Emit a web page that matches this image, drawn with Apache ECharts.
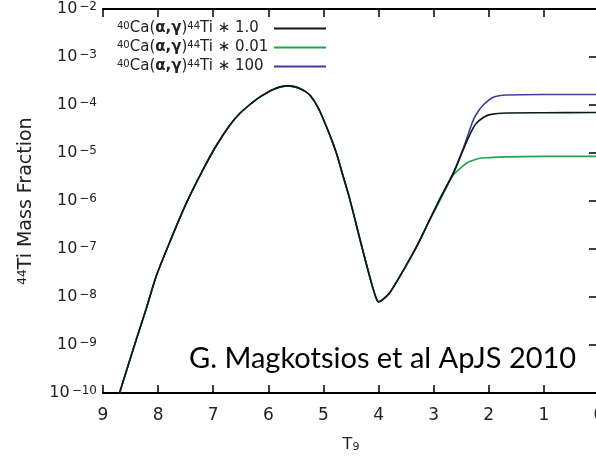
<!DOCTYPE html>
<html>
<head>
<meta charset="utf-8">
<script src="https://cdn.jsdelivr.net/npm/echarts@6/dist/echarts.min.js"></script>
<style>
  html, body { margin: 0; padding: 0; background: #fff; }
  #chart { width: 596px; height: 460px; }
</style>
</head>
<body>
<div id="chart"></div>
<script>
// rate multipliers shown in the legend
const rateFactors = ['1.0', '0.01', '100'];
const lineColors = ['#0b1a12', '#1fa64c', '#3d3f98'];

// shared part of the curves (T9, mass fraction) – all three overlap here
const tCommon = [8.70, 8.40, 8.21, 8.03, 7.79, 7.49, 7.19, 6.94, 6.70, 6.51, 6.30, 6.15, 5.90, 5.65,
  5.40, 5.24, 5.10, 5.00, 4.88, 4.76, 4.64, 4.52, 4.31, 4.15, 4.06, 4.00, 3.92, 3.79, 3.55, 3.31, 3.07];
const yCommon = [1e-10, 1.26e-9, 6.0e-9, 2.8e-8, 1.38e-7, 8.9e-7, 4.4e-6, 1.45e-5, 3.8e-5, 6.8e-5, 1.1e-4, 1.48e-4, 2.14e-4, 2.5e-4,
  2.14e-4, 1.58e-4, 8.9e-5, 5.0e-5, 2.3e-5, 9.5e-6, 3.2e-6, 1.07e-6, 1.2e-7, 2.4e-8, 1.07e-8, 7.9e-9, 8.9e-9, 1.26e-8, 3.6e-8, 1.12e-7, 4.1e-7];

// where they split after T9 ~ 3
const tTailK = [2.88, 2.64, 2.52, 2.40, 2.31, 2.23, 2.10, 1.98, 1.67, 1.0, 0];
const yTailK = [1.15e-6, 3.8e-6, 8.1e-6, 1.74e-5, 2.9e-5, 4.1e-5, 5.5e-5, 6.3e-5, 6.8e-5, 6.9e-5, 7.0e-5];

const tTailG = [2.88, 2.76, 2.64, 2.52, 2.40, 2.28, 2.16, 2.0, 1.74, 1.0, 0];
const yTailG = [1.05e-6, 2.0e-6, 3.5e-6, 4.8e-6, 6.2e-6, 7.1e-6, 7.8e-6, 8.0e-6, 8.3e-6, 8.5e-6, 8.5e-6];

const tTailB = [2.88, 2.64, 2.45, 2.28, 2.19, 2.10, 1.92, 1.67, 1.0, 0];
const yTailB = [1.15e-6, 4.0e-6, 1.38e-5, 4.9e-5, 7.4e-5, 1.0e-4, 1.45e-4, 1.62e-4, 1.66e-4, 1.66e-4];

const xTicks = [0, 1, 2, 3, 4, 5, 6, 7, 8, 9];

const tails = [[tTailK, yTailK], [tTailG, yTailG], [tTailB, yTailB]];
const zOrder = [5, 3, 4];

const labelFont = 'DejaVu Sans';
const ink = '#222';

function pairs(ts, ys) {
  return ts.map((t, i) => [t, ys[i]]);
}

function powLabel(v) {
  const e = Math.round(Math.log10(v));
  return '{b|10}{s|' + String(e).replace('-', '\u2212') + '}';
}

const powRich = {
  b: { fontSize: 16, lineHeight: 16, verticalAlign: 'bottom', fontFamily: labelFont, color: ink },
  s: { fontSize: 12, lineHeight: 11, verticalAlign: 'top', padding: [0, 0, 8, 2], fontFamily: labelFont, color: ink }
};

const seriesList = rateFactors.map((f, i) => ({
  name: '40Ca(α,γ)44Ti * ' + f,
  type: 'line',
  data: pairs(tCommon, yCommon).concat(pairs(tails[i][0], tails[i][1])),
  symbol: 'none',
  smooth: 0.3,
  z: zOrder[i],
  lineStyle: { color: lineColors[i], width: 1.6 },
  itemStyle: { color: lineColors[i] }
}));

const chart = echarts.init(document.getElementById('chart'), null, { renderer: 'canvas' });

const xBase = {
  type: 'value',
  min: xTicks[0],
  max: xTicks[xTicks.length - 1],
  interval: 1,
  inverse: true,
  splitLine: { show: false },
  axisLine: { lineStyle: { color: '#000', width: 2 } },
  axisTick: { inside: true, length: 8, lineStyle: { color: '#000', width: 1.5 } }
};

const yBase = {
  type: 'log',
  logBase: 10,
  min: 1e-10,
  max: 1e-2,
  splitNumber: 8,
  splitLine: { show: false },
  minorTick: { show: false },
  axisLine: { show: true, lineStyle: { color: '#000', width: 2 } },
  axisTick: { show: true, inside: true, length: 10, lineStyle: { color: '#000', width: 1.5 } }
};

chart.setOption({
  backgroundColor: '#fff',
  animation: false,
  grid: { left: 103, right: -3, top: 9, bottom: 67, outerBoundsMode: 'none' },
  legend: {
    orient: 'vertical',
    align: 'right',
    left: 112,
    top: 16,
    itemWidth: 52,
    itemHeight: 12,
    itemGap: 2,
    itemStyle: { opacity: 0 },
    data: seriesList.map(s => s.name),
    formatter(name) {
      const f = name.split('* ')[1];
      return '{s|40}{t|Ca(}{g|α,γ}{t|)}{s|44}{t|Ti \u2217 ' + f + '}';
    },
    textStyle: {
      width: 152,
      rich: {
        t: { align: 'left', fontSize: 15, lineHeight: 15, verticalAlign: 'bottom', fontFamily: labelFont, color: ink },
        g: { align: 'left', fontSize: 15, lineHeight: 15, verticalAlign: 'bottom', fontWeight: 'bold', fontFamily: labelFont, color: ink },
        s: { align: 'left', fontSize: 10, lineHeight: 10, verticalAlign: 'top', padding: [0, 0, 7, 0], fontFamily: labelFont, color: ink }
      }
    }
  },
  xAxis: [
    Object.assign({}, xBase, {
      position: 'bottom',
      axisLabel: { margin: 14, fontSize: 17, color: ink, fontFamily: labelFont },
      name: '{b|T}{s|9}',
      nameLocation: 'middle',
      nameGap: 44,
      nameTextStyle: {
        rich: {
          b: { fontSize: 16, lineHeight: 16, verticalAlign: 'top', fontFamily: labelFont, color: ink },
          s: { fontSize: 11, lineHeight: 11, verticalAlign: 'bottom', padding: [8, 0, 0, 0], fontFamily: labelFont, color: ink }
        }
      }
    }),
    Object.assign({}, xBase, { position: 'top', axisLabel: { show: false } })
  ],
  yAxis: [
    Object.assign({}, yBase, {
      position: 'left',
      axisLabel: { margin: 6, formatter: powLabel, rich: powRich },
      name: '{s|44}{b|Ti Mass Fraction}',
      nameLocation: 'middle',
      nameRotate: 90,
      nameGap: 67,
      nameTextStyle: {
        rich: {
          b: { fontSize: 19, lineHeight: 19, verticalAlign: 'bottom', fontFamily: labelFont, color: ink },
          s: { fontSize: 12, lineHeight: 11, verticalAlign: 'top', padding: [0, 0, 9, 0], fontFamily: labelFont, color: ink }
        }
      }
    }),
    Object.assign({}, yBase, { position: 'right', axisLabel: { show: false } })
  ],
  graphic: [{
    type: 'text',
    left: 189,
    top: 344,
    style: {
      text: 'G. Magkotsios et al ApJS 2010',
      fontSize: 29,
      fontFamily: 'Lato',
      fill: '#000'
    }
  }],
  series: seriesList
});
</script>
</body>
</html>
